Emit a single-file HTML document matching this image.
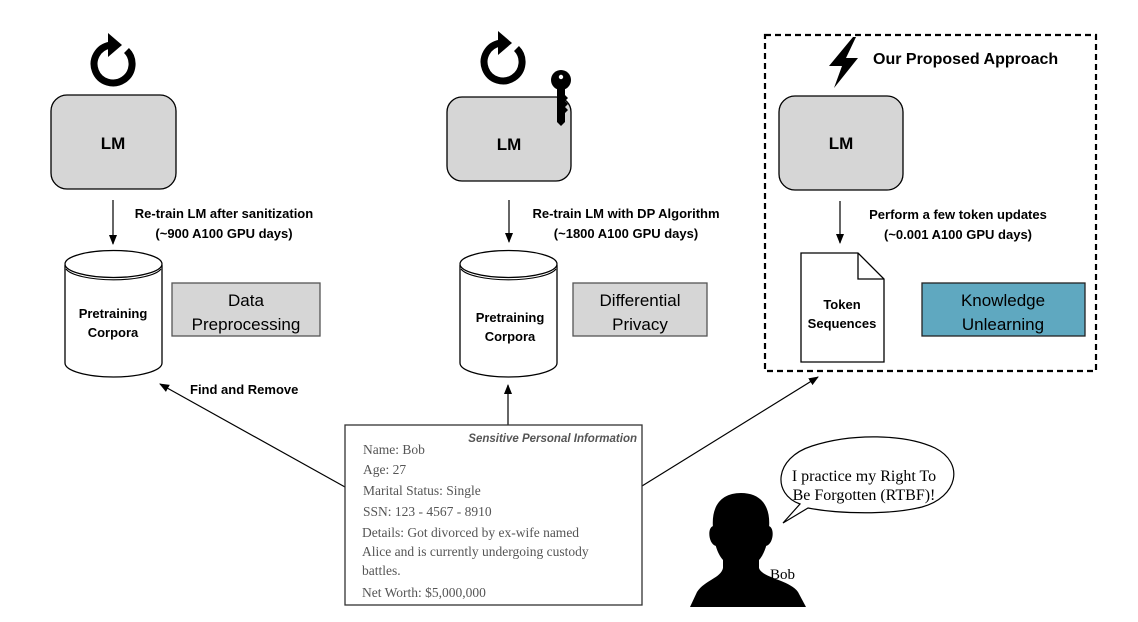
<!DOCTYPE html>
<html><head><meta charset="utf-8"><style>
html,body{margin:0;padding:0;background:#fff;}
svg{display:block;}
.b{font-family:"Liberation Sans",sans-serif;font-weight:bold;}
.s{font-family:"Liberation Serif",serif;}
</style></head><body>
<svg width="1138" height="622" viewBox="0 0 1138 622" xmlns="http://www.w3.org/2000/svg">
<defs>
<marker id="ah" markerWidth="10" markerHeight="10" refX="9" refY="5" orient="auto" markerUnits="userSpaceOnUse">
<path d="M0,1 L10,5 L0,9 Z" fill="#000"/>
</marker>
<g id="refresh">
<path d="M13.5,-13.5 A19,19 0 1 1 -3,-18.8" fill="none" stroke="#000" stroke-width="7"/>
<path d="M-5,-31 L9,-19 L-5,-7 Z" fill="#000"/>
</g>
</defs>

<!-- LEFT -->
<use href="#refresh" x="113" y="64"/>
<rect x="51" y="95" width="125" height="94" rx="16" fill="#d6d6d6" stroke="#000" stroke-width="1.3"/>
<text x="113" y="149" class="b" font-size="17" text-anchor="middle">LM</text>
<line x1="113" y1="200" x2="113" y2="244" stroke="#000" stroke-width="1.2" marker-end="url(#ah)"/>
<text x="224" y="218" class="b" font-size="13" text-anchor="middle">Re-train LM after sanitization</text>
<text x="224" y="238" class="b" font-size="13" text-anchor="middle">(~900 A100 GPU days)</text>
<path d="M65,265 L65,363 A48.5,14 0 0 0 162,363 L162,265" fill="#fff" stroke="#000" stroke-width="1.3"/>
<ellipse cx="113.5" cy="264" rx="48.5" ry="13.5" fill="#fff" stroke="#000" stroke-width="1.3"/>
<path d="M66,269 A48.5,13.5 0 0 0 161,269" fill="none" stroke="#000" stroke-width="1.1"/>
<text x="113" y="318" class="b" font-size="13" text-anchor="middle">Pretraining</text>
<text x="113" y="337" class="b" font-size="13" text-anchor="middle">Corpora</text>
<rect x="172" y="283" width="148" height="53" fill="#d6d6d6" stroke="#555" stroke-width="1.3"/>
<text x="246" y="306" font-family="Liberation Sans,sans-serif" font-size="17" text-anchor="middle">Data</text>
<text x="246" y="330" font-family="Liberation Sans,sans-serif" font-size="17" text-anchor="middle">Preprocessing</text>
<text x="190" y="394" class="b" font-size="13">Find and Remove</text>
<line x1="345" y1="487" x2="160" y2="384" stroke="#000" stroke-width="1.2" marker-end="url(#ah)"/>

<!-- MIDDLE -->
<use href="#refresh" x="503" y="62"/>
<rect x="447" y="97" width="124" height="84" rx="15" fill="#d6d6d6" stroke="#000" stroke-width="1.3"/>
<text x="509" y="150" class="b" font-size="17" text-anchor="middle">LM</text>
<!-- key -->
<circle cx="561" cy="80" r="10" fill="#000"/>
<circle cx="561" cy="77" r="2.2" fill="#fff"/>
<path d="M557,88 L565,88 L565,95 L568,98 L565,101 L568,104 L565,107 L568,110 L565,113 L565,122 L561,126 L557,122 Z" fill="#000"/>
<line x1="509" y1="200" x2="509" y2="242" stroke="#000" stroke-width="1.2" marker-end="url(#ah)"/>
<text x="626" y="218" class="b" font-size="13" text-anchor="middle">Re-train LM with DP Algorithm</text>
<text x="626" y="238" class="b" font-size="13" text-anchor="middle">(~1800 A100 GPU days)</text>
<path d="M460,265 L460,363 A48.5,14 0 0 0 557,363 L557,265" fill="#fff" stroke="#000" stroke-width="1.3"/>
<ellipse cx="508.5" cy="264" rx="48.5" ry="13.5" fill="#fff" stroke="#000" stroke-width="1.3"/>
<path d="M461,269 A48.5,13.5 0 0 0 556,269" fill="none" stroke="#000" stroke-width="1.1"/>
<text x="510" y="322" class="b" font-size="13" text-anchor="middle">Pretraining</text>
<text x="510" y="341" class="b" font-size="13" text-anchor="middle">Corpora</text>
<rect x="573" y="283" width="134" height="53" fill="#d6d6d6" stroke="#555" stroke-width="1.3"/>
<text x="640" y="306" font-family="Liberation Sans,sans-serif" font-size="17" text-anchor="middle">Differential</text>
<text x="640" y="330" font-family="Liberation Sans,sans-serif" font-size="17" text-anchor="middle">Privacy</text>
<line x1="508" y1="425" x2="508" y2="385" stroke="#000" stroke-width="1.2" marker-end="url(#ah)"/>

<!-- RIGHT -->
<rect x="765" y="35" width="331" height="336" fill="none" stroke="#000" stroke-width="2.2" stroke-dasharray="6,4"/>
<path d="M853,37 L829,66 L842,66 L834,88 L858,58 L846,58 L856,37 Z" fill="#000"/>
<text x="873" y="64" class="b" font-size="16">Our Proposed Approach</text>
<rect x="779" y="96" width="124" height="94" rx="16" fill="#d6d6d6" stroke="#000" stroke-width="1.3"/>
<text x="841" y="149" class="b" font-size="17" text-anchor="middle">LM</text>
<line x1="840" y1="201" x2="840" y2="243" stroke="#000" stroke-width="1.2" marker-end="url(#ah)"/>
<text x="958" y="219" class="b" font-size="13" text-anchor="middle">Perform a few token updates</text>
<text x="958" y="239" class="b" font-size="13" text-anchor="middle">(~0.001 A100 GPU days)</text>
<path d="M801,253 L858,253 L884,279 L884,362 L801,362 Z" fill="#fff" stroke="#000" stroke-width="1.3"/>
<path d="M858,253 L858,279 L884,279" fill="none" stroke="#000" stroke-width="1.3"/>
<text x="842" y="309" class="b" font-size="13" text-anchor="middle">Token</text>
<text x="842" y="328" class="b" font-size="13" text-anchor="middle">Sequences</text>
<rect x="922" y="283" width="163" height="53" fill="#5fa8c0" stroke="#222" stroke-width="1.3"/>
<text x="1003" y="306" font-family="Liberation Sans,sans-serif" font-size="17" text-anchor="middle">Knowledge</text>
<text x="1003" y="330" font-family="Liberation Sans,sans-serif" font-size="17" text-anchor="middle">Unlearning</text>
<line x1="642" y1="486" x2="818" y2="377" stroke="#000" stroke-width="1.2" marker-end="url(#ah)"/>

<!-- Info box -->
<rect x="345" y="425" width="297" height="180" fill="#fff" stroke="#333" stroke-width="1.3"/>
<text x="637" y="442" font-family="Liberation Sans,sans-serif" font-weight="bold" font-style="italic" font-size="11.5" fill="#555" text-anchor="end">Sensitive Personal Information</text>
<g class="s" font-size="13.5" fill="#555">
<text x="363" y="454">Name: Bob</text>
<text x="363" y="474">Age: 27</text>
<text x="363" y="495">Marital Status: Single</text>
<text x="363" y="516">SSN: 123 - 4567 - 8910</text>
<text x="362" y="537">Details: Got divorced by ex-wife named</text>
<text x="362" y="556">Alice and is currently undergoing custody</text>
<text x="362" y="575">battles.</text>
<text x="362" y="597">Net Worth: $5,000,000</text>
</g>

<!-- Bubble -->
<path d="M800,504 C772,494 774,458 812,446 C852,433 905,434 935,448 C965,463 958,497 922,507 C890,515 840,514 808,508 L783,523 Z" fill="#fff" stroke="#000" stroke-width="1.2"/>
<text x="864" y="481" class="s" font-size="16" text-anchor="middle">I practice my Right To</text>
<text x="864" y="500" class="s" font-size="16" text-anchor="middle">Be Forgotten (RTBF)!</text>

<!-- Person -->
<path d="M713,528 C711,505 722,493 741,493 C760,493 771,505 769,528 C768,543 765,553 759,560 L759,568 C762,578 790,580 798,592 L806,607 L690,607 L697,592 C705,580 721,578 723,568 L723,560 C717,553 714,543 713,528 Z" fill="#000"/>
<path d="M714,526 C707,526 708,544 716,546 Z M768,526 C775,526 774,544 766,546 Z" fill="#000"/>
<text x="770" y="579" class="s" font-size="15">Bob</text>
</svg>
</body></html>
